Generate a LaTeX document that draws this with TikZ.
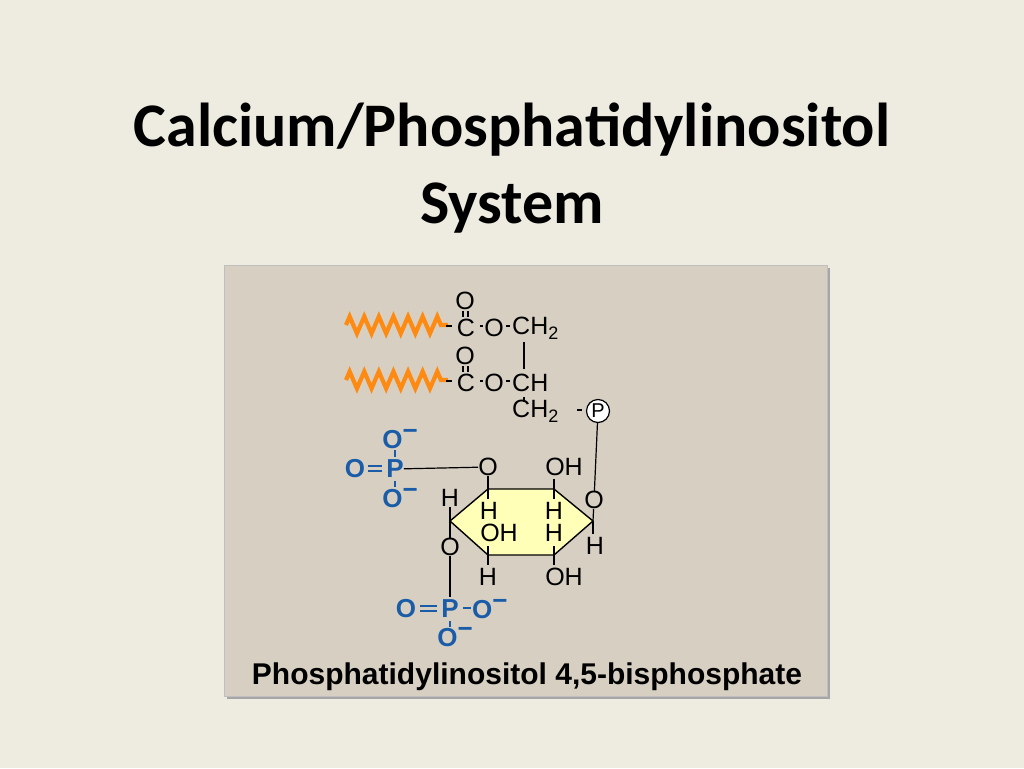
\documentclass[tikz,border=0pt]{standalone}
\usepackage{fontspec}
\setmainfont{Liberation Sans}
\newfontfamily\titlefont{Carlito}
\usetikzlibrary{decorations.pathmorphing}
\definecolor{bg}{HTML}{EEEBE1}
\definecolor{panel}{HTML}{D7D0C2}
\definecolor{pblue}{HTML}{1A5CA8}
\definecolor{zz}{HTML}{FF8A12}
\definecolor{ring}{HTML}{FFFFB8}
\begin{document}
\begin{tikzpicture}[x=1pt,y=-1pt,
  ch/.style={inner sep=0pt,font=\fontsize{25}{25}\selectfont},
  bl/.style={inner sep=0pt,text=pblue,font=\fontsize{26}{26}\selectfont\bfseries},
  bond/.style={line width=1.2pt},
  zig/.style={zz,line width=4.2pt,line join=miter,decorate,decoration={zigzag,segment length=14.6pt,amplitude=8.5pt}}]
\fill[bg] (0,0) rectangle (1024,768);
\useasboundingbox (0,0) rectangle (1024,768);
\node[font=\titlefont\fontsize{62}{77}\selectfont\bfseries,align=center] (title) at (512,168) {Calcium/Phosphatidylinositol\\System};
\fill[black!35] (227,268) rectangle (830,699);
\fill[panel,draw=black!25] (224,265) rectangle (827,696);
\node[inner sep=0pt,font=\fontsize{30}{30}\selectfont\bfseries] (cap) at (527,677) {Phosphatidylinositol 4,5-bisphosphate};
% chains
\coordinate (z1a) at (346,325); \coordinate (z1b) at (448,325);
\coordinate (z2a) at (346,380); \coordinate (z2b) at (448,380);
\draw[zig] (z1a) -- (z1b); \draw[zig] (z2a) -- (z2b);
\node[ch] (o1) at (465,301) {O};
\node[ch] (c1) at (466,328) {C};
\draw[bond] (463,311)--(463,317) (468,311)--(468,317);
\node[ch] (oc1) at (494,328) {O};
\draw[bond] (446,326)--(452,326) (480,326)--(483,326) (506,326)--(510,326);
\node[ch,anchor=west] (ch2a) at (512,328) {CH\raisebox{-0.35ex}{\fontsize{18}{18}\selectfont 2}};
\node[ch] (o2) at (465,356) {O};
\node[ch] (c2) at (466,383) {C};
\draw[bond] (463,366)--(463,372) (468,366)--(468,372);
\node[ch] (oc2) at (494,383) {O};
\draw[bond] (446,381)--(452,381) (480,381)--(483,381) (506,381)--(510,381);
\node[ch,anchor=west] (cha) at (512,383) {CH};
\draw[bond] (524,342)--(524,369);
\draw[bond] (524,397)--(524,402);
\node[ch,anchor=west] (ch2b) at (512,411) {CH\raisebox{-0.35ex}{\fontsize{18}{18}\selectfont 2}};
\draw[bond] (577,410)--(582,410);
\node[circle,draw,line width=1.2pt,fill=white,minimum size=23pt,inner sep=0pt,font=\fontsize{20}{20}\selectfont] (P) at (598,411) {P};
\node[ch] (or) at (594,500) {O};
\draw[bond] (P) -- (or);
% ring
\coordinate (v1) at (488,489); \coordinate (v2) at (554,489); \coordinate (v3) at (593,521);
\coordinate (v4) at (554,555); \coordinate (v5) at (488,555); \coordinate (v6) at (450,521);
\filldraw[fill=ring,line width=1.4pt,line join=round] (v1)--(v2)--(v3)--(v4)--(v5)--(v6)--cycle;
\node[ch] (ot) at (488,467) {O};
\node[ch] (oh1) at (564,467) {OH};
\draw[bond] (ot) -- (v1); \draw[bond] (554,479) -- (v2);
\draw[bond] (or) -- (v3);
\node[ch] (hl) at (450,498) {H}; \draw[bond] (hl) -- (v6);
\node[ch] (ol) at (450,547) {O}; \draw[bond] (v6) -- (ol);
\draw[bond] (v1)--(488,499) (v2)--(554,499) (v5)--(488,546) (v4)--(554,546) (v5)--(488,565) (v4)--(554,565) (v3)--(593,534);
\node[ch] (h1) at (489,511) {H}; \node[ch] (h2) at (554,511) {H};
\node[ch] (oh2) at (499,533) {OH}; \node[ch] (h3) at (554,533) {H};
\node[ch] (h4) at (595,546) {H};
\node[ch] (h5) at (488,577) {H}; \node[ch] (oh3) at (564,577) {OH};
% phosphate 1
\node[bl] (p1) at (395,469) {P};
\node[bl] (p1o) at (355,469) {O};
\node[bl] (p1t) at (400,439) {O\raisebox{0.6ex}{\textminus}};
\node[bl] (p1b) at (400,498) {O\raisebox{0.6ex}{\textminus}};
\draw[pblue,line width=1.4pt] (368,466)--(382,466) (368,471)--(382,471);
\draw[pblue,line width=1.4pt] (395,450)--(395,457) (395,481)--(395,487);
\draw[bond] (p1) -- (ot);
% phosphate 2
\draw[bond] (ol) -- (450,597);
\node[bl] (p2) at (450,609) {P};
\node[bl] (p2o) at (406,609) {O};
\node[bl,anchor=west] (p2r) at (472,609) {O\raisebox{0.6ex}{\textminus}};
\node[bl] (p2b) at (455,637) {O\raisebox{0.6ex}{\textminus}};
\draw[pblue,line width=1.4pt] (420,606)--(437,606) (420,611)--(437,611) (463,608)--(471,608) (450,621)--(450,627);
\end{tikzpicture}
\end{document}
